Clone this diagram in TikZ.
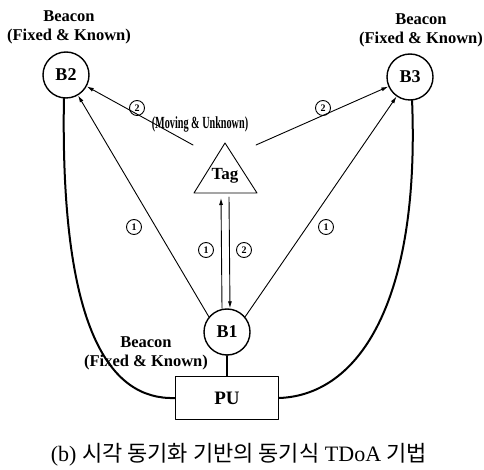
\documentclass[tikz,border=0pt]{standalone}
\usepackage{fontspec}
\setmainfont{Liberation Serif}
\newfontfamily\kofont{Noto Sans CJK KR}
\usetikzlibrary{arrows.meta}
\newcommand{\fsz}[1]{\fontsize{#1}{#1}\selectfont}
\begin{document}
\begin{tikzpicture}[line join=round, line cap=round, >={Latex[length=7pt,width=4pt]}, x=1pt, y=-1pt]
	\tikzset{beacon/.style={circle,draw,line width=1.4pt,minimum size=46pt,inner sep=0pt,font=\fsz{18}\bfseries},
		lbl/.style={align=center,font=\fontsize{16.5}{19}\selectfont\bfseries},
		num/.style={circle,draw,line width=0.9pt,minimum size=15pt,inner sep=0pt,font=\fsz{10}\bfseries},
		sig/.style={->,line width=0.9pt},
		wire/.style={line width=2pt}}
	\useasboundingbox (0,0) rectangle (484,470);
	% beacons and processing unit
	\node[beacon] (b2) at (66,75) {B2};
	\node[beacon] (b3) at (410,77) {B3};
	\node[beacon] (b1) at (227,332) {B1};
	\node[draw,line width=1.4pt,minimum width=103pt,minimum height=43pt,font=\fsz{19}\bfseries] (pu) at (227,398) {PU};
	\node[lbl] (l2) at (69,27) {Beacon\\(Fixed \& Known)};
	\node[lbl] (l3) at (421,30) {Beacon\\(Fixed \& Known)};
	% tag
	\coordinate (ta) at (225,143);
	\coordinate (tbl) at (194,193);
	\coordinate (tbr) at (257,193);
	\draw[line width=0.9pt] (ta) -- (tbl) -- (tbr) -- cycle;
	\node[font=\fsz{17}\bfseries] (tag) at (225,176) {Tag};
	\node[font=\fsz{17}\bfseries] (mov) at (200,124) {\scalebox{0.6}[1]{(Moving \& Unknown)}};
	\coordinate (tl) at (193,145);
	\coordinate (tr) at (256,145);
	% signals
	\draw[sig] (tl) -- (b2);
	\draw[sig] (tr) -- (b3);
	\draw[sig] (b1.140) -- (b2);
	\draw[sig] (b1.40) -- (b3);
	\draw[sig] ([xshift=-5pt]b1.north) -- ([xshift=-4pt,yshift=-5pt]tbl -| tag);
	\draw[sig] ([xshift=4pt,yshift=-4pt]tbl -| tag) -- ([xshift=3pt]b1.north);
	\node[num] (n2a) at (137,108) {2};
	\node[num] (n2b) at (323,108) {2};
	\node[num] (n1a) at (134,227) {1};
	\node[num] (n1b) at (326,227) {1};
	\node[num] (n1c) at (206,250) {1};
	\node[num] (n2c) at (244,250) {2};
	% wiring
	\draw[line width=1.4pt] (b1) -- (pu);
	\draw[wire] (b2.265) .. controls (60,330) and (110,400) .. (pu.west);
	\draw[wire] (b3.275) .. controls (420,300) and (360,395) .. (pu.east);
	\node[lbl] (l1) at (146,353) {Beacon\\(Fixed \& Known)};
	% caption
	\node[font=\fsz{22}] (cap) at (239,455) {(b) {\kofont 시각 동기화 기반의 동기식} TDoA {\kofont 기법}};
\end{tikzpicture}
\end{document}
